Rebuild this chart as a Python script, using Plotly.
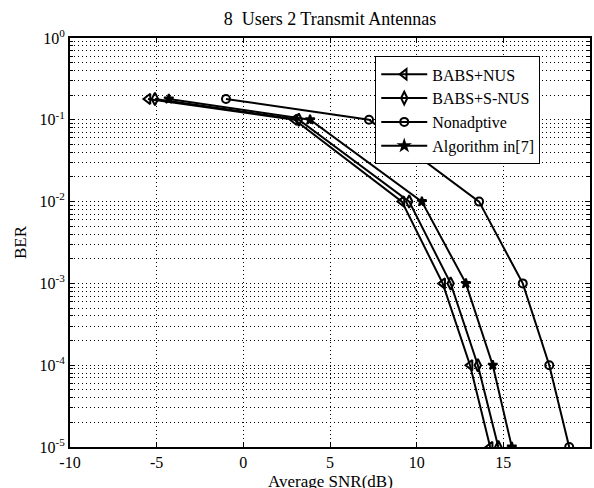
import plotly.graph_objects as go

# Data
snr_nus = [-5.5, 2.95, 9.15, 11.5, 13.08, 14.24]
ber_nus = [0.18, 0.1, 1e-2, 1e-3, 1e-4, 1e-5]

snr_snus = [-5.1, 3.2, 9.57, 11.96, 13.53, 14.71]
ber_snus = [0.18, 0.1, 1e-2, 1e-3, 1e-4, 1e-5]

snr_nonad = [-1.0, 7.25, 13.6, 16.12, 17.65, 18.8]
ber_nonad = [0.18, 0.1, 1e-2, 1e-3, 1e-4, 1e-5]

snr_alg7 = [-4.3, 3.85, 10.3, 12.84, 14.39, 15.49]
ber_alg7 = [0.18, 0.1, 1e-2, 1e-3, 1e-4, 1e-5]

x_ticks = [-10, -5, 0, 5, 10, 15, 20]
y_ticks = [1, 1e-1, 1e-2, 1e-3, 1e-4, 1e-5]
y_ticktext = ["10<sup>0</sup>", "10<sup>-1</sup>", "10<sup>-2</sup>",
              "10<sup>-3</sup>", "10<sup>-4</sup>", "10<sup>-5</sup>"]

FONT = "Liberation Serif"

fig = go.Figure()
series = [
    ("BABS+NUS", snr_nus, ber_nus, "triangle-left-open", 9),
    ("BABS+S-NUS", snr_snus, ber_snus, "diamond-tall-open", 9),
    ("Nonadptive", snr_nonad, ber_nonad, "circle-open", 8),
    ("Algorithm in[7]", snr_alg7, ber_alg7, "star", 7),
]
for name, x, y, sym, sz in series:
    fig.add_trace(go.Scatter(
        x=x, y=y, name=name, mode="lines+markers",
        line=dict(color="black", width=2),
        marker=dict(symbol=sym, size=sz, color="black",
                    line=dict(color="black", width=2)),
    ))

axis_common = dict(
    showline=True, linecolor="black", linewidth=2, mirror="ticks",
    ticks="inside", tickcolor="black", ticklen=5, tickwidth=1,
    showgrid=True, gridcolor="black", gridwidth=1, griddash="1px,3px",
    zeroline=False, automargin=False,
    tickfont=dict(family=FONT, size=16, color="black"),
)

fig.update_xaxes(
    range=[-10, 20], tickvals=x_ticks, ticktext=[str(v) for v in x_ticks],
    **axis_common,
)
fig.update_yaxes(
    type="log", range=[-5, 0], tickvals=y_ticks, ticktext=y_ticktext,
    title=dict(text="BER", font=dict(family=FONT, size=17, color="black"),
               standoff=9),
    minor=dict(dtick="D1", showgrid=True, gridcolor="black", gridwidth=1,
               griddash="1px,3px", ticks="inside", ticklen=3, tickcolor="black"),
    **axis_common,
)

fig.update_layout(
    width=594, height=488,
    margin=dict(l=70, r=4, t=38, b=41),
    paper_bgcolor="white", plot_bgcolor="white",
    title=dict(text="8  Users 2 Transmit Antennas", x=0.5555, xanchor="center",
               y=0.962, yanchor="middle",
               font=dict(family=FONT, size=18, color="black")),
    font=dict(family=FONT, color="black"),
    legend=dict(x=0.587, y=0.955, xanchor="left", yanchor="top",
                bgcolor="white", bordercolor="black", borderwidth=1,
                font=dict(family=FONT, size=16, color="black"),
                itemwidth=46, tracegroupgap=0),
    showlegend=True,
    annotations=[dict(text="Average SNR(dB)", xref="paper", yref="paper",
                      x=0.5, y=0, xanchor="center", yanchor="top", yshift=-23,
                      showarrow=False,
                      font=dict(family=FONT, size=17, color="black"))],
)

fig.write_html("out.html", config={"displayModeBar": False},
               post_script="document.body.style.margin='0px';document.body.style.overflow='hidden';")
